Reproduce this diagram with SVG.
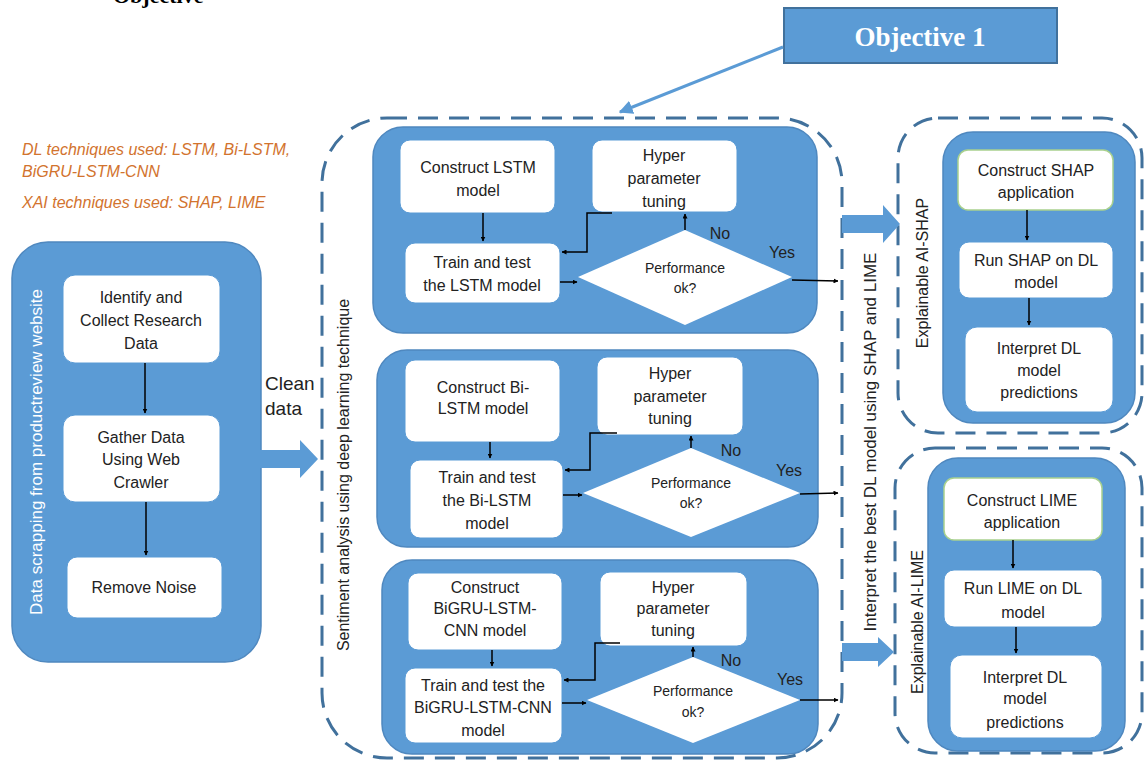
<svg xmlns="http://www.w3.org/2000/svg" width="1144" height="763" viewBox="0 0 1144 763">
<defs>
<marker id="ah" viewBox="0 0 10 10" refX="9" refY="5" markerWidth="5" markerHeight="5" orient="auto" markerUnits="userSpaceOnUse"><path d="M0,0 L10,5 L0,10 z" fill="#000"/></marker>
<marker id="ahb" viewBox="0 0 10 10" refX="9" refY="5" markerWidth="14" markerHeight="14" orient="auto" markerUnits="userSpaceOnUse"><path d="M0,0 L10,5 L0,10 z" fill="#5B9BD5"/></marker>
<style>
.panel{fill:#5B9BD5;stroke:#4F88BF;stroke-width:1.5}
.box{fill:#fff;stroke:#5B9BD5;stroke-width:1}
.gbox{fill:#fff;stroke:#A9D18E;stroke-width:1.5}
.dash{fill:none;stroke:#41719C;stroke-width:3;stroke-dasharray:20 11}
.t{font-family:"Liberation Sans",Arial,sans-serif;font-size:16px;fill:#222;text-anchor:middle;dominant-baseline:central}
.tw{font-family:"Liberation Sans",Arial,sans-serif;font-size:17px;fill:#fff;text-anchor:middle;dominant-baseline:central}
.tv{font-family:"Liberation Sans",Arial,sans-serif;font-size:16px;fill:#222;text-anchor:middle;dominant-baseline:central}
.or{font-family:"Liberation Sans",Arial,sans-serif;font-size:16px;font-style:italic;fill:#D2732E}
.ln{fill:none;stroke:#000;stroke-width:1.5}
.barrow{fill:#5B9BD5}
</style>
</defs>

<g id="cut-title"><text x="113" y="3" font-family="Liberation Serif,serif" font-weight="bold" font-size="22" fill="#000">Objective</text></g>

<g id="notes">
<text class="or" x="22" y="155">DL techniques used: LSTM, Bi-LSTM,</text>
<text class="or" x="22" y="177">BiGRU-LSTM-CNN</text>
<text class="or" x="22" y="208">XAI techniques used: SHAP, LIME</text>
</g>

<g id="objective1">
<rect x="784" y="8" width="273" height="55" fill="#5B9BD5" stroke="#41719C" stroke-width="2"/>
<text x="920" y="46" font-family="Liberation Serif,serif" font-weight="bold" font-size="27" fill="#fff" text-anchor="middle">Objective 1</text>
</g>

<g id="containers">
<rect class="dash" x="322" y="118" width="520" height="640" rx="65"/>
<rect class="dash" x="898" y="118" width="244" height="315" rx="40"/>
<rect class="dash" x="895" y="448" width="247" height="305" rx="40"/>
</g>

<g id="scraping">
<rect class="panel" x="12" y="242" width="249" height="420" rx="36"/>
<text class="tw" transform="translate(36,452) rotate(-90)">Data scrapping from productreview website</text>
<g id="n-identify"><rect class="box" x="63" y="275" width="157" height="88" rx="12"/>
<text class="t" x="141" y="297">Identify and</text><text class="t" x="141" y="320">Collect Research</text><text class="t" x="141" y="343">Data</text></g>
<g id="n-gather"><rect class="box" x="63" y="415" width="157" height="87" rx="12"/>
<text class="t" x="141" y="437">Gather Data</text><text class="t" x="141" y="459">Using Web</text><text class="t" x="141" y="482">Crawler</text></g>
<g id="n-noise"><rect class="box" x="67" y="557" width="155" height="61" rx="10"/>
<text class="t" x="144" y="587">Remove Noise</text></g>
</g>

<g id="clean-label"><text x="265" y="390" font-family="Liberation Sans,Arial,sans-serif" font-size="19" fill="#222">Clean</text>
<text x="265" y="415" font-family="Liberation Sans,Arial,sans-serif" font-size="19" fill="#222">data</text></g>

<text class="tv" transform="translate(343,475) rotate(-90)">Sentiment analysis using deep learning technique</text>
<text class="tv" style="font-size:17px" transform="translate(870,442) rotate(-90)">Interpret the best DL model using SHAP and LIME</text>

<g id="lstm">
<rect class="panel" x="373" y="127" width="444" height="206" rx="30"/>
<g id="n-lstm-construct"><rect class="box" x="400" y="140" width="155" height="73" rx="10"/>
<text class="t" x="478" y="167">Construct LSTM</text><text class="t" x="478" y="190">model</text></g>
<g id="n-lstm-hyper"><rect class="box" x="592" y="140" width="145" height="72" rx="10"/>
<text class="t" x="664" y="155">Hyper</text><text class="t" x="664" y="178">parameter</text><text class="t" x="664" y="201">tuning</text></g>
<g id="n-lstm-train"><rect class="box" x="405" y="243" width="155" height="60" rx="10"/>
<text class="t" x="482" y="262">Train and test</text><text class="t" x="482" y="285">the LSTM model</text></g>
<g id="n-lstm-perf"><polygon points="578,277 685,230 792,277 685,325" fill="#fff"/>
<text class="t" x="685" y="268" style="font-size:14px">Performance</text><text class="t" x="685" y="288" style="font-size:14px">ok?</text></g>
<text class="t" x="720" y="233">No</text>
<text class="t" x="782" y="252">Yes</text>
</g>

<g id="bilstm">
<rect class="panel" x="377" y="350" width="441" height="197" rx="30"/>
<g id="n-bi-construct"><rect class="box" x="405" y="360" width="155" height="82" rx="10"/>
<text class="t" x="483" y="387">Construct Bi-</text><text class="t" x="483" y="408">LSTM model</text></g>
<g id="n-bi-hyper"><rect class="box" x="597" y="357" width="146" height="78" rx="10"/>
<text class="t" x="670" y="373">Hyper</text><text class="t" x="670" y="396">parameter</text><text class="t" x="670" y="418">tuning</text></g>
<g id="n-bi-train"><rect class="box" x="410" y="460" width="153" height="78" rx="10"/>
<text class="t" x="487" y="477">Train and test</text><text class="t" x="487" y="500">the Bi-LSTM</text><text class="t" x="487" y="523">model</text></g>
<g id="n-bi-perf"><polygon points="583,493 691,448 800,493 691,537" fill="#fff"/>
<text class="t" x="691" y="483" style="font-size:14px">Performance</text><text class="t" x="691" y="503" style="font-size:14px">ok?</text></g>
<text class="t" x="731" y="450">No</text>
<text class="t" x="789" y="470">Yes</text>
</g>

<g id="bigru">
<rect class="panel" x="382" y="560" width="436" height="194" rx="30"/>
<g id="n-gru-construct"><rect class="box" x="408" y="573" width="154" height="77" rx="10"/>
<text class="t" x="485" y="587">Construct</text><text class="t" x="485" y="608">BiGRU-LSTM-</text><text class="t" x="485" y="630">CNN model</text></g>
<g id="n-gru-hyper"><rect class="box" x="600" y="572" width="147" height="74" rx="10"/>
<text class="t" x="673" y="587">Hyper</text><text class="t" x="673" y="608">parameter</text><text class="t" x="673" y="630">tuning</text></g>
<g id="n-gru-train"><rect class="box" x="405" y="668" width="157" height="75" rx="10"/>
<text class="t" x="483" y="685">Train and test the</text><text class="t" x="483" y="707">BiGRU-LSTM-CNN</text><text class="t" x="483" y="730">model</text></g>
<g id="n-gru-perf"><polygon points="587,700 693,657 800,700 693,743" fill="#fff"/>
<text class="t" x="693" y="691" style="font-size:14px">Performance</text><text class="t" x="693" y="712" style="font-size:14px">ok?</text></g>
<text class="t" x="731" y="660">No</text>
<text class="t" x="790" y="679">Yes</text>
</g>

<g id="shap">
<rect class="panel" x="943" y="132" width="192" height="291" rx="30"/>
<text class="tv" transform="translate(922,273) rotate(-90)">Explainable AI-SHAP</text>
<g id="n-shap-construct"><rect class="gbox" x="958" y="150" width="155" height="60" rx="10"/>
<text class="t" x="1036" y="170">Construct SHAP</text><text class="t" x="1036" y="192">application</text></g>
<g id="n-shap-run"><rect class="box" x="959" y="242" width="154" height="56" rx="10"/>
<text class="t" x="1036" y="260">Run SHAP on DL</text><text class="t" x="1036" y="282">model</text></g>
<g id="n-shap-interp"><rect class="box" x="965" y="327" width="148" height="85" rx="12"/>
<text class="t" x="1039" y="348">Interpret DL</text><text class="t" x="1039" y="370">model</text><text class="t" x="1039" y="392">predictions</text></g>
</g>

<g id="lime">
<rect class="panel" x="928" y="458" width="197" height="293" rx="30"/>
<text class="tv" transform="translate(917,622) rotate(-90)">Explainable AI-LIME</text>
<g id="n-lime-construct"><rect class="gbox" x="944" y="478" width="158" height="62" rx="10"/>
<text class="t" x="1022" y="500">Construct LIME</text><text class="t" x="1022" y="522">application</text></g>
<g id="n-lime-run"><rect class="box" x="944" y="570" width="158" height="57" rx="10"/>
<text class="t" x="1023" y="588">Run LIME on DL</text><text class="t" x="1023" y="612">model</text></g>
<g id="n-lime-interp"><rect class="box" x="950" y="655" width="152" height="83" rx="12"/>
<text class="t" x="1025" y="677">Interpret DL</text><text class="t" x="1025" y="698">model</text><text class="t" x="1025" y="722">predictions</text></g>
</g>

<g id="connectors">
<line x1="783" y1="47" x2="620" y2="112" stroke="#5B9BD5" stroke-width="3" marker-end="url(#ahb)"/>
<path class="barrow" d="M260,450 H300 V440 L318,459 L300,478 V468 H260 z"/>
<path class="barrow" d="M842,215 H883 V205 L900,224 L883,243 V233 H842 z"/>
<path class="barrow" d="M842,643 H878 V637 L894,652 L878,667 V661 H842 z"/>
<line class="ln" x1="145" y1="363" x2="145" y2="413" marker-end="url(#ah)"/>
<line class="ln" x1="146" y1="502" x2="146" y2="555" marker-end="url(#ah)"/>
<line class="ln" x1="483" y1="213" x2="483" y2="241" marker-end="url(#ah)"/>
<line class="ln" x1="685" y1="230" x2="685" y2="214" marker-end="url(#ah)"/>
<path class="ln" d="M612,213 H587 V252 H562" marker-end="url(#ah)"/>
<line class="ln" x1="560" y1="282" x2="577" y2="282" marker-end="url(#ah)"/>
<line class="ln" x1="792" y1="280" x2="838" y2="281" marker-end="url(#ah)"/>
<line class="ln" x1="490" y1="442" x2="490" y2="458" marker-end="url(#ah)"/>
<line class="ln" x1="691" y1="448" x2="691" y2="436" marker-end="url(#ah)"/>
<path class="ln" d="M617,433 H590 V470 H565" marker-end="url(#ah)"/>
<line class="ln" x1="563" y1="495" x2="582" y2="495" marker-end="url(#ah)"/>
<line class="ln" x1="800" y1="494" x2="838" y2="493" marker-end="url(#ah)"/>
<line class="ln" x1="492" y1="650" x2="492" y2="666" marker-end="url(#ah)"/>
<line class="ln" x1="693" y1="657" x2="693" y2="647" marker-end="url(#ah)"/>
<path class="ln" d="M620,643 H595 V680 H564" marker-end="url(#ah)"/>
<line class="ln" x1="562" y1="703" x2="586" y2="703" marker-end="url(#ah)"/>
<line class="ln" x1="800" y1="700" x2="838" y2="700" marker-end="url(#ah)"/>
<line class="ln" x1="1027" y1="210" x2="1027" y2="240" marker-end="url(#ah)"/>
<line class="ln" x1="1029" y1="298" x2="1029" y2="325" marker-end="url(#ah)"/>
<line class="ln" x1="1013" y1="540" x2="1013" y2="568" marker-end="url(#ah)"/>
<line class="ln" x1="1016" y1="627" x2="1016" y2="653" marker-end="url(#ah)"/>
</g>
</svg>
